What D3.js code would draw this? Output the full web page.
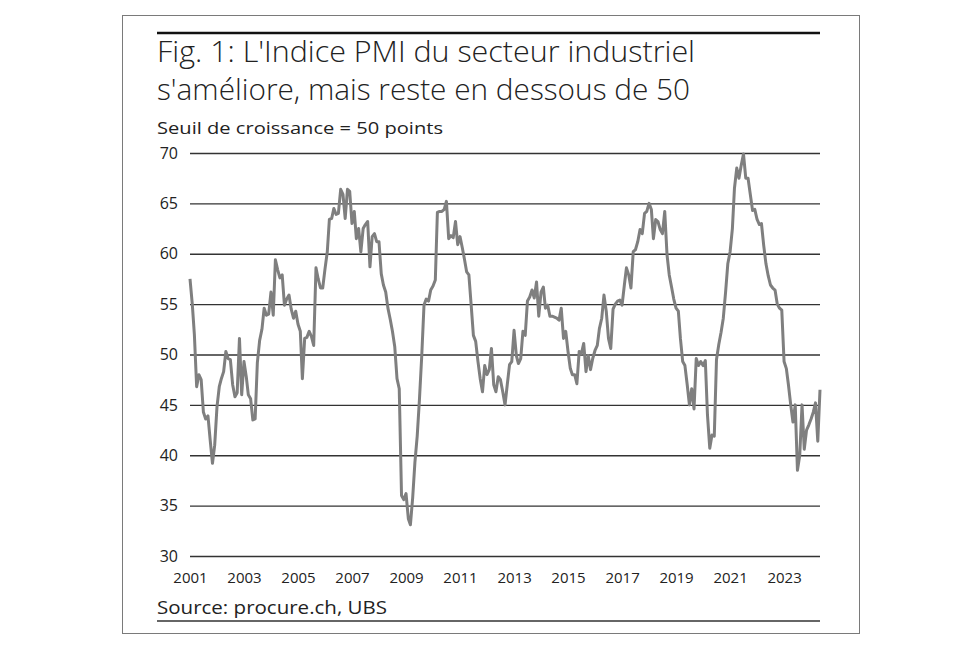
<!DOCTYPE html>
<html><head><meta charset="utf-8">
<script src="https://cdn.jsdelivr.net/npm/d3@7"></script>
<style>body{margin:0;background:#fff}svg{display:block}text{font-family:"Open Sans","Noto Sans",sans-serif;fill:#222}</style>
</head><body>
<svg id="c" width="980" height="653"></svg>
<script>
const startYear = 2001, startMonth = 0;
const pmi2001 = [57.5,55.0,52.0,46.8,48.0,47.5,44.3,43.6,43.9,41.5,39.2,41.0];
const pmi2002 = [44.8,46.8,47.6,48.3,50.3,49.6,49.5,47.0,45.8,46.2,51.6,46.0];
const pmi2003 = [49.3,47.8,46.0,45.6,43.5,43.6,49.2,51.4,52.5,54.6,53.9,54.0];
const pmi2004 = [56.2,53.9,59.4,58.4,57.6,57.9,54.9,55.5,55.9,54.5,53.6,54.3];
const pmi2005 = [53.0,52.3,47.6,51.6,51.7,52.3,51.8,50.9,58.6,57.5,56.6,56.6];
const pmi2006 = [58.5,60.2,63.4,63.5,64.5,63.9,64.0,66.4,65.9,63.5,66.4,66.2];
const pmi2007 = [63.0,64.2,61.5,62.5,60.2,62.5,62.9,63.2,58.7,61.7,62.0,61.2];
const pmi2008 = [61.2,58.0,56.9,56.2,54.6,53.5,52.3,50.8,47.6,46.6,36.0,35.6];
const pmi2009 = [36.2,33.7,33.1,35.8,39.3,41.9,45.5,49.8,54.9,55.5,55.3,56.4];
const pmi2010 = [56.8,57.4,64.1,64.2,64.2,64.4,65.2,61.5,61.8,61.6,63.2,60.9];
const pmi2011 = [61.7,60.6,59.5,58.2,57.9,54.9,51.9,51.3,49.3,47.6,46.3,48.9];
const pmi2012 = [48.0,48.5,50.6,47.0,46.3,47.8,47.5,46.3,45.0,47.0,49.0,49.3];
const pmi2013 = [52.4,49.9,49.1,49.6,52.3,51.9,55.3,55.7,56.4,55.6,57.2,53.8];
const pmi2014 = [56.2,56.7,54.6,54.9,53.8,53.8,53.7,53.6,53.4,54.6,51.6,52.3];
const pmi2015 = [50.3,48.6,48.0,48.0,47.1,50.3,50.1,51.1,48.3,49.9,48.5,49.6];
const pmi2016 = [50.4,50.9,52.6,53.6,55.9,54.3,51.6,50.6,54.5,55.0,55.3,55.4];
const pmi2017 = [54.9,56.9,58.6,57.9,56.6,60.2,60.4,61.2,62.4,62.0,64.0,64.2];
const pmi2018 = [65.0,64.4,61.5,63.4,63.2,62.4,62.0,64.2,59.9,57.9,56.7,55.5];
const pmi2019 = [54.6,54.3,51.6,49.3,48.9,47.0,45.0,46.6,44.6,49.6,48.9,49.3];
const pmi2020 = [48.9,49.4,44.0,40.7,42.0,41.9,49.5,51.0,52.2,53.6,56.2,59.0];
const pmi2021 = [60.2,62.5,66.5,68.5,67.5,68.8,69.9,67.5,67.5,65.9,64.3,64.4];
const pmi2022 = [63.4,62.9,63.0,60.8,59.0,57.8,56.9,56.6,56.4,55.0,54.6,54.4];
const pmi2023 = [49.3,48.6,47.0,45.0,43.3,45.0,38.5,40.0,45.0,40.6,42.5,43.0];
const pmi2024 = [43.6,44.3,45.2,41.4,46.5];
const yTicks = [30,35,40,45,50,55,60,65,70];
const xTickYears = [2001,2003,2005,2007,2009,2011,2013,2015,2017,2019,2021,2023];
const titleLines = ["Fig. 1: L'Indice PMI du secteur industriel","s'améliore, mais reste en dessous de 50"];
const subtitle = "Seuil de croissance = 50 points";
const source = "Source: procure.ch, UBS";

const values = [].concat(pmi2001,pmi2002,pmi2003,pmi2004,pmi2005,pmi2006,pmi2007,pmi2008,pmi2009,pmi2010,pmi2011,pmi2012,pmi2013,pmi2014,pmi2015,pmi2016,pmi2017,pmi2018,pmi2019,pmi2020,pmi2021,pmi2022,pmi2023,pmi2024);
const data = values.map((v,i)=>({date:new Date(startYear, startMonth+i, 1), v}));

const svg = d3.select("#c");
// frame
svg.append("rect").attr("x",122.5).attr("y",15.5).attr("width",737).attr("height",618)
  .attr("fill","none").attr("stroke","#7a7a7a").attr("stroke-width",1);
// top rule
svg.append("line").attr("x1",157).attr("x2",820).attr("y1",33).attr("y2",33).attr("stroke","#111").attr("stroke-width",2.5);
// bottom rule
svg.append("line").attr("x1",157).attr("x2",820).attr("y1",621).attr("y2",621).attr("stroke","#333").attr("stroke-width",1.3);

const tl = [[62,538],[100,533]];
titleLines.forEach((t,i)=>{
  svg.append("text").attr("x",157).attr("y",tl[i][0]).attr("font-size",30).attr("font-weight",300)
    .attr("textLength",tl[i][1]).attr("lengthAdjust","spacingAndGlyphs").text(t);
});
svg.append("text").attr("x",157).attr("y",134).attr("font-size",17).attr("textLength",286)
  .attr("lengthAdjust","spacingAndGlyphs").text(subtitle);
svg.append("text").attr("x",157).attr("y",614).attr("font-size",19).attr("textLength",230)
  .attr("lengthAdjust","spacingAndGlyphs").text(source);

const x = d3.scaleTime().domain([data[0].date, data[data.length-1].date]).range([190,820]);
const y = d3.scaleLinear().domain([30,70]).range([556,153]);

// y grid + labels
const yAxis = d3.axisLeft(y).tickValues(yTicks).tickSize(-(820-190)).tickPadding(12).tickFormat(d3.format("d"));
const gy = svg.append("g").attr("transform","translate(190,0)").call(yAxis);
gy.select(".domain").remove();
gy.selectAll(".tick line").attr("stroke","#333").attr("stroke-width",1.3);
gy.selectAll(".tick text").attr("font-size",16).attr("fill","#222").attr("font-family","'Open Sans',sans-serif");

// x labels
const xAxis = d3.axisBottom(x).tickValues(xTickYears.map(yv=>new Date(yv,0,1))).tickSize(0).tickPadding(0).tickFormat(d3.timeFormat("%Y"));
const gx = svg.append("g").attr("transform","translate(0,572)").call(xAxis);
gx.select(".domain").remove();
gx.selectAll(".tick text").attr("font-size",15).attr("fill","#222").attr("dy","0.71em").attr("font-family","'Open Sans',sans-serif");

// line
svg.append("path").datum(data).attr("fill","none").attr("stroke","#7f7f7f").attr("stroke-width",3)
  .attr("stroke-linejoin","round")
  .attr("d", d3.line().x(d=>x(d.date)).y(d=>y(d.v)));
</script>
</body></html>
